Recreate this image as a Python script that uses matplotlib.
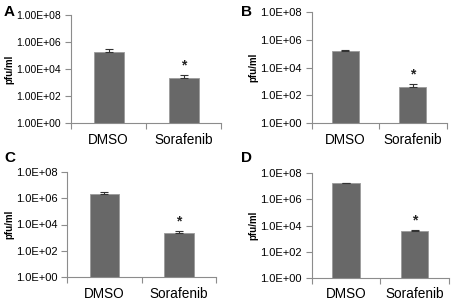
import numpy as np
import matplotlib
matplotlib.use("Agg")
import matplotlib.pyplot as plt
from matplotlib.ticker import FixedLocator, FuncFormatter

plt.rcParams['font.family'] = ['Liberation Sans', 'DejaVu Sans']

categories = ["DMSO", "Sorafenib"]
panels = ["A", "B", "C", "D"]
# mean pfu/ml and upper error per panel (DMSO, Sorafenib)
values = {
    "A": [1.8e5, 2.1e3],
    "B": [1.5e5, 3.7e2],
    "C": [2.1e6, 2.3e3],
    "D": [1.7e7, 3.8e3],
}
errors = {
    "A": [1.2e5, 1.3e3],
    "B": [0.3e5, 2.4e2],
    "C": [0.8e6, 0.9e3],
    "D": [0.2e7, 0.7e3],
}
yticks = [1e0, 1e2, 1e4, 1e6, 1e8]
tick_fmt = {"A": "{:.2E}", "B": "{:.1E}", "C": "{:.1E}", "D": "{:.1E}"}
tick_size = {"A": 7.5, "B": 8, "C": 8, "D": 8}

W, H = 454, 301
# axes boxes in pixels: left, top, right, bottom
boxes = {
    "A": (71, 15, 221, 123),
    "B": (311.7, 12, 446.7, 123),
    "C": (67.3, 171.7, 216, 277.3),
    "D": (311.7, 173.3, 449, 277.7),
}
letter_pos = {"A": (4, 12), "B": (241, 12), "C": (4, 158), "D": (241, 158)}
ylabel_x = {"A": 9, "B": 253, "C": 9, "D": 253}

fig = plt.figure(figsize=(W / 100, H / 100), dpi=100)
gray = "#8c8c8c"

for p in panels:
    l, t, r, b = boxes[p]
    ax = fig.add_axes([l / W, 1 - b / H, (r - l) / W, (b - t) / H])
    x = np.arange(len(categories))
    vals = values[p]
    errs = errors[p]
    ax.bar(x, vals, width=0.4, bottom=1, color="#686868", edgecolor="#9a9a9a",
           linewidth=0.6, zorder=2)
    ax.errorbar(x, vals, yerr=[np.zeros(len(vals)), errs], fmt="none",
                ecolor="#333333", elinewidth=0.8, capsize=3, capthick=0.8, zorder=3)
    ax.text(1, (vals[1] + errs[1]) * 1.6, "*", ha="center", va="bottom",
            fontsize=10, fontweight="bold", color="#222222")

    ax.set_yscale("log")
    ax.set_ylim(1, 1e8)
    ax.set_xlim(-0.5, 1.5)
    ax.yaxis.set_major_locator(FixedLocator(yticks))
    ax.yaxis.set_minor_locator(FixedLocator([]))
    fmt = tick_fmt[p]
    ax.yaxis.set_major_formatter(FuncFormatter(lambda v, pos, f=fmt: f.format(v)))
    ax.tick_params(axis="y", direction="out", length=4, width=0.8, color=gray,
                   labelsize=tick_size[p], pad=3)

    ax.set_xticks(x)
    ax.set_xticklabels(categories)
    ax.set_xticks([-0.5, 0.5, 1.5], minor=True)
    ax.tick_params(axis="x", which="major", length=0, labelsize=9.8, pad=7)
    ax.tick_params(axis="x", which="minor", direction="out", length=4, width=0.8,
                   color=gray)

    for s in ["top", "right"]:
        ax.spines[s].set_visible(False)
    for s in ["left", "bottom"]:
        ax.spines[s].set_color(gray)
        ax.spines[s].set_linewidth(0.8)

    fig.text(ylabel_x[p] / W, 1 - ((t + b) / 2) / H, "pfu/ml", rotation=90,
             ha="center", va="center", fontsize=7, fontweight="bold")
    lx, ly = letter_pos[p]
    fig.text(lx / W, 1 - ly / H, p, ha="left", va="center", fontsize=11,
             fontweight="bold")

fig.savefig("out.png", dpi=100)
